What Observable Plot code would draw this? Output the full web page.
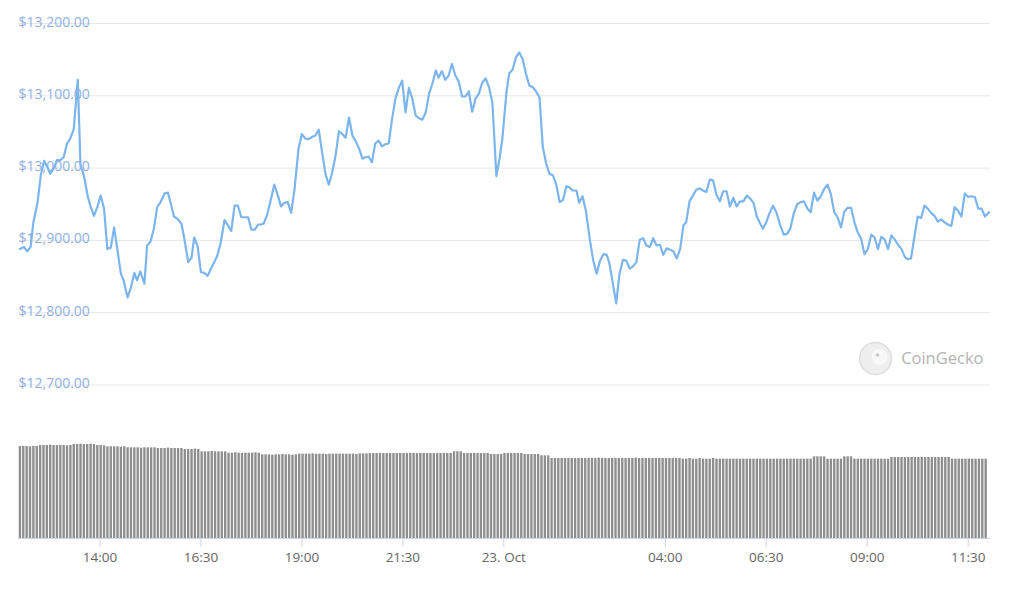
<!DOCTYPE html>
<html>
<head>
<meta charset="utf-8">
<script src="https://cdn.jsdelivr.net/npm/d3@7"></script>
<script src="https://cdn.jsdelivr.net/npm/@observablehq/plot@0.6"></script>
<style>
  html, body { margin: 0; padding: 0; background: #ffffff; }
  #wrap { width: 1017px; height: 590px; overflow: hidden; }
  #wrap svg { display: block; }
</style>
</head>
<body>
<div id="wrap"></div>
<script>
// ---- data ----
const startTime = Date.UTC(2020, 9, 22, 12, 0); // 22 Oct 2020 12:00
const domainStart = Date.UTC(2020, 9, 22, 11, 58, 54);
const domainEnd = Date.UTC(2020, 9, 23, 12, 3, 12);

// [minutes after start, price USD]
const priceSeries = [
[1,12888],[7,12891],[12,12885],[17,12891],[21,12925],[27,12951],[32,12990],[37,13010],[42,13001],[46,12992],
[51,12999],[56,13011],[61,13011],[66,13015],[71,13034],[76,13041],[81,13054],[87,13122],[91,13004],[96,12990],
[102,12960],[106,12947],[111,12934],[116,12946],[121,12962],[126,12944],[131,12888],[136,12890],[141,12918],[146,12886],
[151,12854],[155,12845],[161,12821],[166,12835],[171,12855],[175,12845],[180,12857],[186,12840],[190,12893],[195,12898],
[200,12916],[205,12946],[210,12953],[216,12965],[221,12966],[226,12948],[230,12933],[235,12930],[241,12923],[245,12904],
[251,12870],[256,12876],[260,12904],[265,12892],[270,12856],[275,12855],[280,12851],[287,12865],[294,12878],[299,12895],
[305,12928],[310,12921],[315,12913],[320,12948],[325,12948],[330,12932],[335,12932],[340,12932],[345,12915],[350,12915],
[355,12922],[359,12922],[363,12923],[368,12934],[373,12953],[379,12977],[384,12963],[389,12947],[394,12952],[399,12953],
[404,12938],[409,12970],[415,13027],[420,13047],[425,13041],[430,13040],[435,13043],[440,13045],[445,13053],[450,13022],
[455,12992],[460,12977],[465,12994],[470,13017],[475,13051],[480,13047],[485,13042],[490,13070],[495,13045],[500,13037],
[505,13027],[510,13013],[514,13015],[519,13016],[524,13008],[529,13034],[534,13038],[539,13030],[544,13033],[549,13034],
[554,13068],[559,13096],[564,13111],[569,13121],[574,13077],[579,13111],[584,13096],[589,13073],[594,13069],[599,13067],
[604,13077],[609,13103],[614,13117],[619,13135],[623,13125],[628,13134],[633,13122],[638,13128],[643,13144],[648,13128],
[653,13120],[658,13099],[663,13099],[668,13106],[673,13078],[678,13096],[683,13103],[688,13118],[693,13124],[698,13112],
[703,13091],[709,12989],[714,13015],[718,13042],[724,13105],[728,13131],[733,13136],[738,13153],[743,13160],[748,13151],
[753,13130],[758,13114],[763,13112],[768,13106],[773,13098],[778,13029],[783,13006],[788,12992],[793,12990],[798,12977],
[803,12953],[808,12956],[813,12975],[818,12973],[822,12969],[828,12969],[832,12952],[837,12961],[842,12941],[848,12900],
[853,12872],[858,12854],[863,12872],[868,12881],[873,12880],[877,12868],[883,12835],[887,12813],[892,12854],[897,12873],
[902,12872],[907,12861],[912,12864],[917,12870],[922,12901],[927,12903],[932,12893],[937,12891],[942,12903],[947,12893],
[952,12894],[957,12880],[962,12889],[967,12887],[972,12885],[977,12875],[982,12888],[987,12921],[991,12925],[996,12954],
[1001,12962],[1006,12970],[1011,12972],[1016,12969],[1021,12967],[1026,12984],[1031,12983],[1036,12963],[1041,12954],[1046,12968],
[1051,12968],[1056,12947],[1061,12959],[1066,12947],[1071,12954],[1076,12954],[1081,12962],[1086,12958],[1091,12952],[1096,12933],
[1100,12925],[1105,12916],[1110,12925],[1115,12938],[1120,12948],[1125,12939],[1130,12923],[1136,12908],[1141,12909],[1146,12917],
[1151,12938],[1156,12950],[1161,12953],[1166,12954],[1171,12944],[1176,12939],[1181,12966],[1186,12955],[1191,12961],[1196,12971],
[1201,12977],[1206,12964],[1211,12939],[1216,12932],[1221,12918],[1226,12940],[1231,12945],[1236,12945],[1241,12925],[1246,12911],
[1251,12902],[1256,12881],[1261,12888],[1266,12908],[1271,12904],[1276,12888],[1281,12905],[1286,12901],[1291,12888],[1296,12907],
[1301,12901],[1306,12894],[1311,12888],[1316,12877],[1320,12874],[1325,12875],[1330,12904],[1335,12933],[1340,12931],[1345,12948],
[1350,12944],[1355,12938],[1360,12934],[1365,12926],[1370,12929],[1375,12925],[1380,12922],[1385,12920],[1390,12946],[1395,12941],
[1400,12933],[1405,12965],[1410,12960],[1415,12961],[1420,12960],[1425,12944],[1430,12944],[1435,12933],[1441,12939]
];

// 24h volume (USD billions), one bar per 5 minutes from startTime
const volumeStepMinutes = 5;
const volumes = [
27.6,27.6,27.6,27.5,27.6,27.6,27.9,27.9,27.9,28.0,27.9,27.9,
27.9,27.9,27.8,27.9,28.2,28.2,28.3,28.2,28.2,28.3,28.2,27.9,
27.9,27.8,27.5,27.5,27.5,27.5,27.4,27.5,27.2,27.2,27.2,27.2,
27.1,27.2,27.2,27.2,27.2,27.0,27.0,27.0,27.1,27.0,27.0,27.0,
27.0,26.7,26.7,26.7,26.8,26.7,26.0,26.0,26.0,26.1,26.0,26.0,
26.0,26.0,25.6,25.6,25.7,25.6,25.5,25.6,25.6,25.6,25.7,25.6,
25.1,25.1,25.1,25.0,25.1,25.1,25.2,25.1,25.1,25.0,25.1,25.3,
25.3,25.3,25.3,25.4,25.3,25.3,25.3,25.2,25.3,25.3,25.3,25.3,
25.3,25.3,25.3,25.3,25.2,25.4,25.4,25.4,25.5,25.5,25.5,25.5,
25.5,25.5,25.5,25.5,25.5,25.5,25.5,25.5,25.5,25.5,25.5,25.5,
25.5,25.5,25.5,25.5,25.5,25.5,25.5,25.5,25.5,26.0,26.0,26.0,
25.5,25.5,25.5,25.5,25.5,25.5,25.5,25.5,25.2,25.2,25.2,25.2,
25.5,25.5,25.5,25.5,25.5,25.5,25.2,25.2,25.2,25.2,25.2,24.8,
24.8,24.8,24.0,24.0,24.0,24.0,24.0,24.0,24.0,24.0,24.0,24.0,
24.0,24.0,24.0,24.0,24.1,24.0,24.0,24.0,24.0,24.0,24.0,24.0,
24.0,24.0,24.0,24.1,24.0,24.0,24.0,24.0,24.0,24.0,24.0,24.0,
24.0,24.0,24.0,24.0,24.0,23.8,23.8,24.0,23.8,23.8,24.0,23.8,
23.8,23.8,24.0,23.8,23.8,23.8,23.8,23.8,23.8,23.8,23.8,23.8,
23.8,23.8,23.8,23.8,23.8,23.8,23.8,23.8,23.8,23.8,23.8,23.8,
23.8,23.8,23.8,23.8,23.8,23.8,23.8,23.8,24.5,24.5,24.5,24.5,
23.8,23.8,23.8,23.8,23.8,24.5,24.5,24.5,23.8,23.8,23.8,23.8,
23.8,23.8,23.8,23.8,23.8,23.8,23.8,24.3,24.3,24.3,24.3,24.3,
24.3,24.3,24.3,24.3,24.3,24.3,24.3,24.3,24.3,24.3,24.3,24.3,
24.3,23.8,23.8,23.8,23.8,23.8,23.8,23.8,23.8,23.8,23.8,23.8
];

const priceTicks = [12700, 12800, 12900, 13000, 13100, 13200];
const priceTickLabels = ["$12,700.00", "$12,800.00", "$12,900.00", "$13,000.00", "$13,100.00", "$13,200.00"];

const timeTicks = ["2020-10-22T14:00Z", "2020-10-22T16:30Z", "2020-10-22T19:00Z", "2020-10-22T21:30Z",
                   "2020-10-23T00:00Z", "2020-10-23T04:00Z", "2020-10-23T06:30Z", "2020-10-23T09:00Z", "2020-10-23T11:30Z"];
const timeTickLabels = ["14:00", "16:30", "19:00", "21:30", "23. Oct", "04:00", "06:30", "09:00", "11:30"];

const watermark = "CoinGecko";

// ---- derived tables ----
const MIN = 60000;
const priceRows = priceSeries.map(([m, p]) => ({date: new Date(startTime + m * MIN), price: p}));
const volRows = volumes.map((v, i) => ({
  start: new Date(startTime + i * volumeStepMinutes * MIN),
  end: new Date(startTime + (i + 1) * volumeStepMinutes * MIN),
  vol: v
}));
const tickDates = timeTicks.map(s => new Date(s));
const tickLabelMap = new Map(tickDates.map((d, i) => [+d, timeTickLabels[i]]));
const priceLabelMap = new Map(priceTicks.map((p, i) => [p, priceTickLabels[i]]));

const FONT = "'Open Sans', 'Segoe UI', sans-serif";
const xScale = {type: "utc", domain: [new Date(domainStart), new Date(domainEnd)]};

const priceChart = Plot.plot({
  width: 1017,
  height: 400,
  marginTop: 23,
  marginBottom: 15.5,
  marginLeft: 18,
  marginRight: 27,
  style: {fontFamily: FONT, background: "#ffffff", overflow: "visible"},
  x: {...xScale, axis: null},
  y: {domain: [12700, 13200], axis: null},
  marks: [
    Plot.ruleY(priceTicks, {stroke: "#e6e6e6", strokeWidth: 1}),
    Plot.text(priceTicks, {
      y: d => d, text: d => priceLabelMap.get(d), frameAnchor: "left",
      textAnchor: "start", lineAnchor: "bottom", dy: 3, fill: "#8fb0e6", fontSize: 14
    }),
    Plot.dot([watermark], {frameAnchor: "bottom-right", dx: -115, dy: -26.5, r: 16, fill: "#eeeeee", stroke: "#dedede", strokeWidth: 1.5}),
    Plot.dot([watermark], {frameAnchor: "bottom-right", dx: -111, dy: -28, r: 8, fill: "#f8f8f8"}),
    Plot.dot([watermark], {frameAnchor: "bottom-right", dx: -113, dy: -30, r: 1.8, fill: "#c8c8c8"}),
    Plot.text([watermark], {
      frameAnchor: "bottom-right", dx: -7, dy: -26.5, text: d => d, textAnchor: "end",
      lineAnchor: "middle", fill: "#b4b4b4", fontSize: 16.5
    }),
    Plot.line(priceRows, {x: "date", y: "price", stroke: "#7cb5ec", strokeWidth: 2.2, strokeLinejoin: "round"})
  ]
});

const volumeChart = Plot.plot({
  width: 1017,
  height: 190,
  marginTop: 38,
  marginBottom: 52,
  marginLeft: 18,
  marginRight: 27,
  style: {fontFamily: FONT, background: "#ffffff", overflow: "visible"},
  x: {...xScale, axis: null},
  y: {domain: [0, 30], axis: null},
  marks: [
    Plot.rectY(volRows, {x1: "start", x2: "end", y: "vol", fill: "#8e8e8e", insetRight: 1}),
    Plot.ruleY([0], {stroke: "#ccd6eb", strokeWidth: 1}),
    Plot.axisX(tickDates, {
      tickFormat: d => tickLabelMap.get(+d), tickSize: 9, tickPadding: 5,
      stroke: "#ccd6eb", fill: "#666666", fontSize: 13.5
    })
  ]
});

const wrap = document.getElementById("wrap");
wrap.appendChild(priceChart);
wrap.appendChild(volumeChart);
</script>
</body>
</html>
